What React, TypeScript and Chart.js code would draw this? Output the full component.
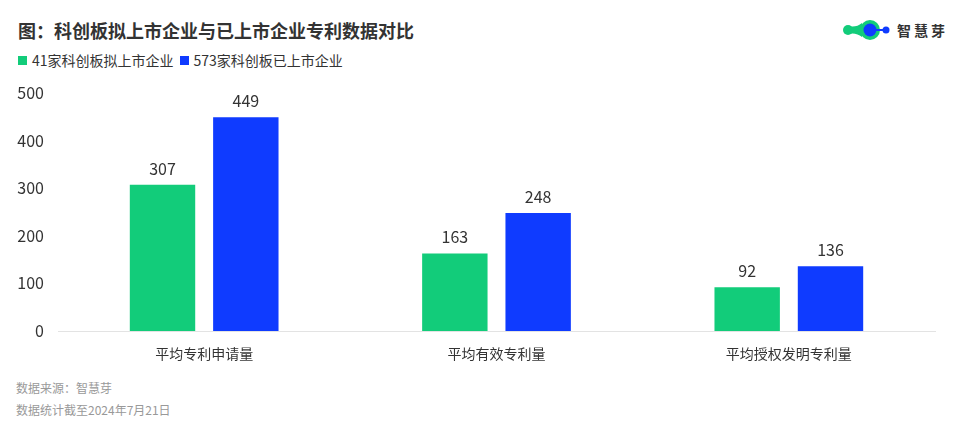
import React, { useEffect, useRef } from "react";
import { Chart, registerables } from "chart.js";

Chart.register(...registerables);

const TITLE = "图：科创板拟上市企业与已上市企业专利数据对比";
const categories = ["平均专利申请量", "平均有效专利量", "平均授权发明专利量"];
const seriesNames = ["41家科创板拟上市企业", "573家科创板已上市企业"];
const seriesColors = ["#12CC7A", "#0F3BFF"];
const proposedValues = [307, 163, 92];
const listedValues = [449, 248, 136];
const yTicks = [0, 100, 200, 300, 400, 500];
const footnotes = ["数据来源：智慧芽", "数据统计截至2024年7月21日"];

const FONT = "'Noto Sans CJK SC', 'Noto Sans', sans-serif";

const valueLabelPlugin = {
  id: "valueLabels",
  afterDatasetsDraw(chart: any) {
    const ctx = chart.ctx;
    ctx.save();
    ctx.font = `16px ${FONT}`;
    ctx.fillStyle = "#333333";
    ctx.textAlign = "center";
    ctx.textBaseline = "bottom";
    chart.data.datasets.forEach((ds: any, i: number) => {
      const meta = chart.getDatasetMeta(i);
      meta.data.forEach((bar: any, j: number) => {
        ctx.fillText(String(ds.data[j]), bar.x, bar.y - 8);
      });
    });
    ctx.restore();
  },
};

export default function App() {
  const ref = useRef<HTMLCanvasElement>(null);

  useEffect(() => {
    document.body.style.margin = "0";
    const chart = new Chart(ref.current!, {
      type: "bar",
      data: {
        labels: categories,
        datasets: [
          {
            label: seriesNames[0],
            data: proposedValues,
            backgroundColor: seriesColors[0],
            categoryPercentage: 0.57,
            barPercentage: 0.785,
          },
          {
            label: seriesNames[1],
            data: listedValues,
            backgroundColor: seriesColors[1],
            categoryPercentage: 0.57,
            barPercentage: 0.785,
          },
        ],
      },
      options: {
        animation: false,
        responsive: false,
        maintainAspectRatio: false,
        layout: { padding: { top: 13, right: 25, bottom: 0, left: 0 } },
        plugins: {
          legend: { display: false },
          tooltip: { enabled: false },
        },
        scales: {
          x: {
            afterFit: (scale: any) => {
              scale.height = 39;
              scale.paddingBottom = 0;
              scale.paddingTop = 0;
            },
            grid: { display: false, drawTicks: false },
            border: { display: true, color: "#E3E3E3", width: 1 },
            ticks: {
              color: "#333333",
              font: { family: FONT, size: 14 },
              padding: 14,
            },
          },
          y: {
            min: 0,
            max: 500,
            afterBuildTicks: (scale: any) => {
              scale.ticks = yTicks.map((v) => ({ value: v }));
            },
            afterFit: (scale: any) => {
              scale.width = 58;
              scale.paddingTop = 9;
              scale.paddingBottom = 0;
            },
            grid: { display: false, drawTicks: false },
            border: { display: false },
            ticks: {
              color: "#333333",
              font: { family: FONT, size: 16 },
              padding: 14,
            },
          },
        },
      },
      plugins: [valueLabelPlugin],
    });
    return () => chart.destroy();
  }, []);

  return (
    <div
      style={{
        position: "fixed",
        left: 0,
        top: 0,
        width: 960,
        height: 426,
        background: "#fff",
        fontFamily: FONT,
        overflow: "hidden",
      }}
    >
      <div
        style={{
          position: "absolute",
          left: 18,
          top: 18,
          fontSize: 18,
          fontWeight: 700,
          color: "#333333",
          lineHeight: "24px",
          whiteSpace: "nowrap",
        }}
      >
        {TITLE}
      </div>
      <div
        style={{
          position: "absolute",
          right: 12,
          top: 19,
          display: "flex",
          alignItems: "center",
          height: 22,
        }}
      >
        <svg width={50} height={22} viewBox="0 0 50 22">
          <circle cx={6} cy={11} r={5} fill="#12CC7A" />
          <path d="M6 7 Q14 9 20 4 L20 18 Q14 13 6 15 Z" fill="#12CC7A" />
          <circle cx={28} cy={11} r={10} fill="#12CC7A" />
          <circle cx={28} cy={11} r={6.5} fill="#0F3BFF" />
          <rect x={34} y={10} width={8} height={2} fill="#0F3BFF" />
          <circle cx={44} cy={11} r={3.5} fill="#0F3BFF" />
        </svg>
        <span
          style={{
            marginLeft: 5,
            fontSize: 14,
            fontWeight: 700,
            color: "#333333",
            letterSpacing: 3,
          }}
        >
          智慧芽
        </span>
      </div>
      <div
        style={{
          position: "absolute",
          left: 18,
          top: 50,
          display: "flex",
          alignItems: "center",
          fontSize: 14,
          color: "#333333",
          lineHeight: "20px",
          whiteSpace: "nowrap",
        }}
      >
        {seriesNames.map((name, i) => (
          <span
            key={name}
            style={{ display: "flex", alignItems: "center", marginRight: 6 }}
          >
            <span
              style={{
                display: "inline-block",
                width: 9,
                height: 9,
                background: seriesColors[i],
                marginRight: 5,
              }}
            />
            {name}
          </span>
        ))}
      </div>
      <canvas
        ref={ref}
        width={960}
        height={290}
        style={{ position: "absolute", left: 0, top: 80, width: 960, height: 290 }}
      />
      {footnotes.map((t, i) => (
        <div
          key={t}
          style={{
            position: "absolute",
            left: 16,
            top: 379 + i * 22,
            fontSize: 12,
            color: "#999999",
            lineHeight: "18px",
            whiteSpace: "nowrap",
          }}
        >
          {t}
        </div>
      ))}
    </div>
  );
}
